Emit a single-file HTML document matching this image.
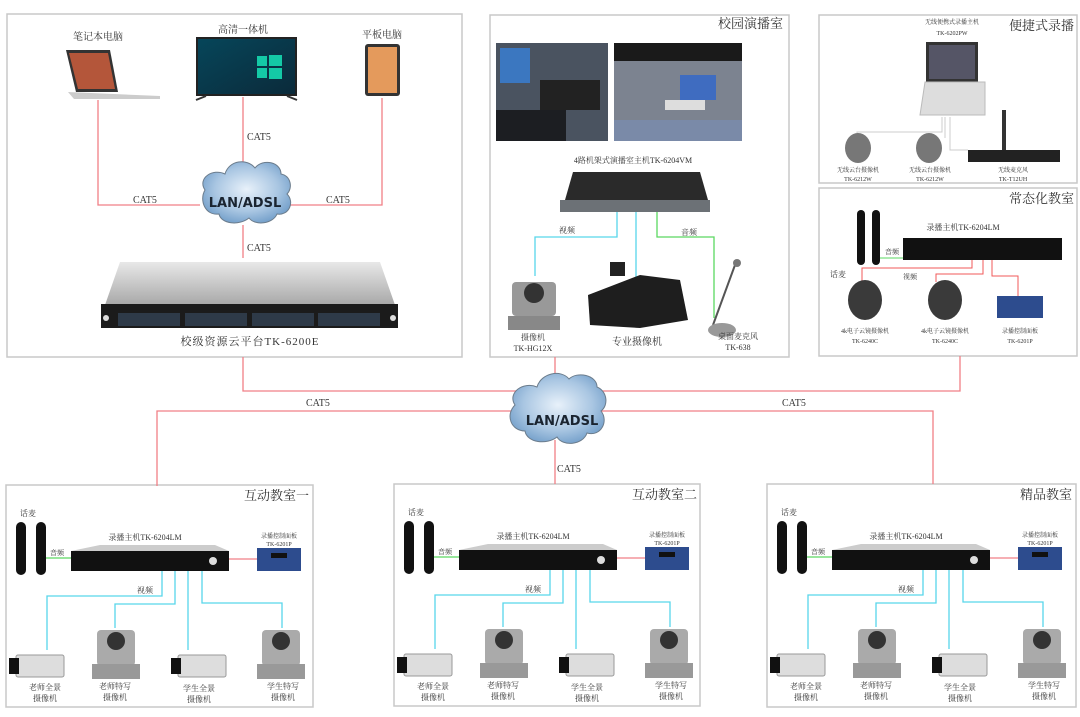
<!DOCTYPE html>
<html><head><meta charset="utf-8"><style>
html,body{margin:0;padding:0;background:#fff;width:1080px;height:717px;overflow:hidden}
svg{display:block}
text{font-family:"Liberation Serif","Noto Serif CJK SC","Noto Sans CJK SC",serif;fill:#333}
.s{font-size:8px}.m{font-size:10px}.t{font-size:13px}
</style></head><body>
<svg width="1080" height="717" viewBox="0 0 1080 717" xmlns="http://www.w3.org/2000/svg">
<defs>
<radialGradient id="cl" cx="50%" cy="45%" r="60%"><stop offset="0" stop-color="#e8f1fa"/><stop offset="0.6" stop-color="#a9c6e2"/><stop offset="1" stop-color="#6f9cc8"/></radialGradient>
<linearGradient id="tv" x1="0" y1="0" x2="1" y2="1"><stop offset="0" stop-color="#06465a"/><stop offset="1" stop-color="#0b2a3a"/></linearGradient>
<linearGradient id="gr" x1="0" y1="0" x2="0" y2="1"><stop offset="0" stop-color="#e8e8e8"/><stop offset="1" stop-color="#a8a8a8"/></linearGradient>
</defs>
<g fill="none" stroke="#c8c8c8" stroke-width="1.5">
<rect x="7" y="14" width="455" height="343"/>
<rect x="490" y="15" width="299" height="342"/>
<rect x="819" y="15" width="258" height="168"/>
<rect x="819" y="188" width="258" height="168"/>
<rect x="6" y="485" width="307" height="222"/>
<rect x="394" y="484" width="306" height="222"/>
<rect x="767" y="484" width="309" height="223"/>
</g>
<g stroke="#f07f86" stroke-width="1.3" fill="none">
<path d="M98 100V205H200M382 98V205H290M243 97V170M243 225V258"/>
<path d="M243 357V391H960V356M555 357V391"/>
<path d="M157 486V411H933V484M555 440V484"/>
</g>
<g>
<path d="M205 190c-8-12 8-22 20-16 4-14 22-16 30-6 8-10 26-6 26 6 10 2 12 14 6 20 8 8 2 22-10 20-4 10-22 12-28 4-10 8-28 6-30-4-14 2-20-14-14-24z" fill="url(#cl)" stroke="#6b7c8c"/>
<text x="245" y="207" text-anchor="middle" style="font-family:'DejaVu Sans',sans-serif;font-size:13px;font-weight:bold;fill:#1a2430">LAN/ADSL</text>
<path d="M515 405c-8-12 8-24 22-18 4-14 24-18 32-8 8-8 28-4 28 8 10 4 12 18 4 24 8 10 0 26-14 22-4 12-24 14-30 4-10 8-30 6-32-6-14 0-20-16-10-26z" fill="url(#cl)" stroke="#6b7c8c"/>
<text x="562" y="425" text-anchor="middle" style="font-family:'DejaVu Sans',sans-serif;font-size:13px;font-weight:bold;fill:#1a2430">LAN/ADSL</text>
</g>
<g class="m">
<text x="133" y="203" class="m">CAT5</text><text x="326" y="203" class="m">CAT5</text>
<text x="247" y="140" class="m">CAT5</text><text x="247" y="251" class="m">CAT5</text>
<text x="306" y="406" class="m">CAT5</text><text x="782" y="406" class="m">CAT5</text>
<text x="557" y="472" class="m">CAT5</text>
</g>
<text x="98" y="40" text-anchor="middle" class="m">笔记本电脑</text>
<text x="243" y="33" text-anchor="middle" class="m">高清一体机</text>
<text x="382" y="38" text-anchor="middle" class="m">平板电脑</text>
<path d="M66 50L110 50L118 92L76 92Z" fill="#333"/><path d="M69 53L108 53L115 89L78 89Z" fill="#b4563a"/>
<path d="M68 92L160 96L160 99L74 99Z" fill="#ccc"/>
<rect x="197" y="38" width="99" height="57" fill="url(#tv)" stroke="#222" stroke-width="2"/>
<g fill="#14c9a6"><rect x="257" y="56" width="10" height="10"/><rect x="269" y="55" width="13" height="11"/><rect x="257" y="68" width="10" height="10"/><rect x="269" y="68" width="13" height="11"/></g>
<path d="M196 100l10-4M297 100l-10-4" stroke="#333" stroke-width="2"/>
<rect x="365" y="44" width="35" height="52" rx="3" fill="#333"/><rect x="368" y="47" width="29" height="46" fill="#e49a5c"/>
<path d="M120 262L380 262L395 305L105 305Z" fill="url(#gr)"/>
<rect x="101" y="304" width="297" height="24" fill="#1b1b1b"/>
<g fill="#2e3a48"><rect x="118" y="313" width="62" height="13"/><rect x="185" y="313" width="62" height="13"/><rect x="252" y="313" width="62" height="13"/><rect x="318" y="313" width="62" height="13"/></g>
<circle cx="106" cy="318" r="3" fill="#ddd"/><circle cx="393" cy="318" r="3" fill="#ddd"/>
<text x="250" y="345" text-anchor="middle" class="m" style="font-size:11px;letter-spacing:1px">校级资源云平台TK-6200E</text>
<text x="783" y="28" text-anchor="end" class="t">校园演播室</text>
<rect x="496" y="43" width="112" height="98" fill="#4a5360"/><rect x="500" y="48" width="30" height="35" fill="#3b77c0"/><rect x="540" y="80" width="60" height="30" fill="#222"/><rect x="496" y="110" width="70" height="31" fill="#1c1e22"/>
<rect x="614" y="43" width="128" height="98" fill="#7c8390"/><rect x="614" y="43" width="128" height="18" fill="#1a1a1a"/><rect x="680" y="75" width="36" height="25" fill="#3f6cc0"/><path d="M614 141L742 141L742 120L614 120Z" fill="#7a8aa8"/><rect x="665" y="100" width="40" height="10" fill="#ddd"/>
<text x="633" y="163" text-anchor="middle" class="s">4路机架式演播室主机TK-6204VM</text>
<path d="M573 172L700 172L708 200L565 200Z" fill="#2a2a2a"/><rect x="560" y="200" width="150" height="12" fill="#6c7176"/>
<g fill="none" stroke-width="1.3"><path d="M617 212V237H535V276M636 212V280" stroke="#58d6ea"/><path d="M657 212V237H714V318" stroke="#5ad860"/></g>
<text x="559" y="233" class="s">视频</text><text x="681" y="235" class="s">音频</text>
<rect x="512" y="282" width="44" height="34" rx="4" fill="#999"/><circle cx="534" cy="293" r="10" fill="#333"/><rect x="508" y="316" width="52" height="14" fill="#888"/>
<text x="533" y="340" text-anchor="middle" class="s">摄像机</text><text x="533" y="351" text-anchor="middle" class="s">TK-HG12X</text>
<path d="M588 295L640 275L680 280L688 320L640 328L590 325Z" fill="#1e1e1e"/><rect x="610" y="262" width="15" height="14" fill="#222"/>
<text x="637" y="345" text-anchor="middle" class="m">专业摄像机</text>
<path d="M713 325L735 265" stroke="#555" stroke-width="2"/><ellipse cx="722" cy="330" rx="14" ry="7" fill="#999"/><circle cx="737" cy="263" r="4" fill="#777"/>
<text x="738" y="339" text-anchor="middle" class="s">桌面麦克风</text><text x="738" y="350" text-anchor="middle" class="s">TK-638</text>
<!-- Box C -->
<text x="1074" y="30" text-anchor="end" class="t">便捷式录播</text>
<text x="952" y="24" text-anchor="middle" class="s" style="font-size:6px">无线便携式录播主机</text><text x="952" y="35" text-anchor="middle" class="s" style="font-size:6px">TK-6202PW</text>
<rect x="926" y="42" width="52" height="40" fill="#333"/><rect x="929" y="45" width="46" height="34" fill="#556"/>
<path d="M925 82L985 82L985 115L920 115Z" fill="#ddd" stroke="#bbb"/>
<path d="M942 117V132H857V138M945 117V138M950 117V150H968" stroke="#ccc" fill="none"/>
<ellipse cx="858" cy="148" rx="13" ry="15" fill="#777"/><ellipse cx="929" cy="148" rx="13" ry="15" fill="#777"/>
<rect x="968" y="150" width="92" height="12" fill="#222"/><rect x="1002" y="110" width="4" height="40" fill="#333"/>
<g class="s" style="font-size:6px" text-anchor="middle"><text x="858" y="172">无线云台摄像机</text><text x="858" y="181">TK-6212W</text><text x="930" y="172">无线云台摄像机</text><text x="930" y="181">TK-6212W</text><text x="1013" y="172">无线麦克风</text><text x="1013" y="181">TK-T12UH</text></g>
<!-- Box D -->
<text x="1074" y="203" text-anchor="end" class="t">常态化教室</text>
<text x="830" y="277" class="s">话麦</text>
<rect x="857" y="210" width="8" height="55" rx="4" fill="#111"/><rect x="872" y="210" width="8" height="55" rx="4" fill="#111"/>
<path d="M880 258H903" stroke="#5ad860"/><text x="885" y="254" class="s" style="font-size:7px">音频</text>
<text x="963" y="230" text-anchor="middle" class="s">录播主机TK-6204LM</text>
<rect x="903" y="238" width="159" height="22" fill="#111"/>
<g fill="none" stroke="#f05a5a"><path d="M972 260V268H862V282M983 260V274H936V282M992 260V276H1018V296"/></g>
<text x="903" y="279" class="s" style="font-size:7px">视频</text>
<ellipse cx="865" cy="300" rx="17" ry="20" fill="#3a3a3a"/><ellipse cx="945" cy="300" rx="17" ry="20" fill="#3a3a3a"/>
<rect x="997" y="296" width="46" height="22" fill="#2d4c8e"/>
<g class="s" style="font-size:6px" text-anchor="middle"><text x="865" y="333">4k电子云镜摄像机</text><text x="865" y="343">TK-6240C</text><text x="945" y="333">4k电子云镜摄像机</text><text x="945" y="343">TK-6240C</text><text x="1020" y="333">录播控制面板</text><text x="1020" y="343">TK-6201P</text></g>
<!-- Classrooms -->
<g>
<text x="309" y="500" text-anchor="end" class="t">互动教室一</text>
<text x="20" y="516" class="s">话麦</text>
<rect x="16" y="522" width="10" height="53" rx="5" fill="#111"/><rect x="36" y="522" width="10" height="53" rx="5" fill="#111"/>
<path d="M46 558H72" stroke="#5ad860" stroke-width="1.3"/><text x="50" y="555" class="s" style="font-size:7px">音频</text>
<text x="145" y="540" text-anchor="middle" class="s">录播主机TK-6204LM</text>
<path d="M100 545L215 545L229 551L71 551Z" fill="#ccc"/>
<rect x="71" y="551" width="158" height="20" fill="#111"/><circle cx="213" cy="561" r="4" fill="#ddd"/>
<path d="M229 559H257" stroke="#f07f86" stroke-width="1.3"/>
<rect x="257" y="548" width="44" height="23" fill="#2d4c8e"/><rect x="271" y="553" width="16" height="5" fill="#111"/>
<text x="279" y="538" text-anchor="middle" class="s" style="font-size:6px">录播控制面板</text><text x="279" y="546" text-anchor="middle" class="s" style="font-size:6px">TK-6201P</text>
<g fill="none" stroke="#58d6ea" stroke-width="1.3"><path d="M162 571V596H47V650M175 571V604H115V628M188 571V650M202 571V603H282V628"/></g>
<text x="137" y="593" class="s">视频</text>
<rect x="16" y="655" width="48" height="22" rx="2" fill="#ddd" stroke="#999"/><rect x="9" y="658" width="10" height="16" fill="#111"/>
<rect x="178" y="655" width="48" height="22" rx="2" fill="#ddd" stroke="#999"/><rect x="171" y="658" width="10" height="16" fill="#111"/>
<rect x="97" y="630" width="38" height="36" rx="4" fill="#aaa"/><circle cx="116" cy="641" r="9" fill="#333"/><rect x="92" y="664" width="48" height="15" fill="#999"/>
<rect x="262" y="630" width="38" height="36" rx="4" fill="#aaa"/><circle cx="281" cy="641" r="9" fill="#333"/><rect x="257" y="664" width="48" height="15" fill="#999"/>
<g class="s" text-anchor="middle"><text x="45" y="690">老师全景</text><text x="45" y="701">摄像机</text><text x="115" y="689">老师特写</text><text x="115" y="700">摄像机</text><text x="199" y="691">学生全景</text><text x="199" y="702">摄像机</text><text x="283" y="689">学生特写</text><text x="283" y="700">摄像机</text></g>
</g>
<g transform="translate(388,-1)">
<text x="309" y="500" text-anchor="end" class="t">互动教室二</text>
<text x="20" y="516" class="s">话麦</text>
<rect x="16" y="522" width="10" height="53" rx="5" fill="#111"/><rect x="36" y="522" width="10" height="53" rx="5" fill="#111"/>
<path d="M46 558H72" stroke="#5ad860" stroke-width="1.3"/><text x="50" y="555" class="s" style="font-size:7px">音频</text>
<text x="145" y="540" text-anchor="middle" class="s">录播主机TK-6204LM</text>
<path d="M100 545L215 545L229 551L71 551Z" fill="#ccc"/>
<rect x="71" y="551" width="158" height="20" fill="#111"/><circle cx="213" cy="561" r="4" fill="#ddd"/>
<path d="M229 559H257" stroke="#f07f86" stroke-width="1.3"/>
<rect x="257" y="548" width="44" height="23" fill="#2d4c8e"/><rect x="271" y="553" width="16" height="5" fill="#111"/>
<text x="279" y="538" text-anchor="middle" class="s" style="font-size:6px">录播控制面板</text><text x="279" y="546" text-anchor="middle" class="s" style="font-size:6px">TK-6201P</text>
<g fill="none" stroke="#58d6ea" stroke-width="1.3"><path d="M162 571V596H47V650M175 571V604H115V628M188 571V650M202 571V603H282V628"/></g>
<text x="137" y="593" class="s">视频</text>
<rect x="16" y="655" width="48" height="22" rx="2" fill="#ddd" stroke="#999"/><rect x="9" y="658" width="10" height="16" fill="#111"/>
<rect x="178" y="655" width="48" height="22" rx="2" fill="#ddd" stroke="#999"/><rect x="171" y="658" width="10" height="16" fill="#111"/>
<rect x="97" y="630" width="38" height="36" rx="4" fill="#aaa"/><circle cx="116" cy="641" r="9" fill="#333"/><rect x="92" y="664" width="48" height="15" fill="#999"/>
<rect x="262" y="630" width="38" height="36" rx="4" fill="#aaa"/><circle cx="281" cy="641" r="9" fill="#333"/><rect x="257" y="664" width="48" height="15" fill="#999"/>
<g class="s" text-anchor="middle"><text x="45" y="690">老师全景</text><text x="45" y="701">摄像机</text><text x="115" y="689">老师特写</text><text x="115" y="700">摄像机</text><text x="199" y="691">学生全景</text><text x="199" y="702">摄像机</text><text x="283" y="689">学生特写</text><text x="283" y="700">摄像机</text></g>
</g>
<g transform="translate(761,-1)">
<text x="311" y="500" text-anchor="end" class="t">精品教室</text>
<text x="20" y="516" class="s">话麦</text>
<rect x="16" y="522" width="10" height="53" rx="5" fill="#111"/><rect x="36" y="522" width="10" height="53" rx="5" fill="#111"/>
<path d="M46 558H72" stroke="#5ad860" stroke-width="1.3"/><text x="50" y="555" class="s" style="font-size:7px">音频</text>
<text x="145" y="540" text-anchor="middle" class="s">录播主机TK-6204LM</text>
<path d="M100 545L215 545L229 551L71 551Z" fill="#ccc"/>
<rect x="71" y="551" width="158" height="20" fill="#111"/><circle cx="213" cy="561" r="4" fill="#ddd"/>
<path d="M229 559H257" stroke="#f07f86" stroke-width="1.3"/>
<rect x="257" y="548" width="44" height="23" fill="#2d4c8e"/><rect x="271" y="553" width="16" height="5" fill="#111"/>
<text x="279" y="538" text-anchor="middle" class="s" style="font-size:6px">录播控制面板</text><text x="279" y="546" text-anchor="middle" class="s" style="font-size:6px">TK-6201P</text>
<g fill="none" stroke="#58d6ea" stroke-width="1.3"><path d="M162 571V596H47V650M175 571V604H115V628M188 571V650M202 571V603H282V628"/></g>
<text x="137" y="593" class="s">视频</text>
<rect x="16" y="655" width="48" height="22" rx="2" fill="#ddd" stroke="#999"/><rect x="9" y="658" width="10" height="16" fill="#111"/>
<rect x="178" y="655" width="48" height="22" rx="2" fill="#ddd" stroke="#999"/><rect x="171" y="658" width="10" height="16" fill="#111"/>
<rect x="97" y="630" width="38" height="36" rx="4" fill="#aaa"/><circle cx="116" cy="641" r="9" fill="#333"/><rect x="92" y="664" width="48" height="15" fill="#999"/>
<rect x="262" y="630" width="38" height="36" rx="4" fill="#aaa"/><circle cx="281" cy="641" r="9" fill="#333"/><rect x="257" y="664" width="48" height="15" fill="#999"/>
<g class="s" text-anchor="middle"><text x="45" y="690">老师全景</text><text x="45" y="701">摄像机</text><text x="115" y="689">老师特写</text><text x="115" y="700">摄像机</text><text x="199" y="691">学生全景</text><text x="199" y="702">摄像机</text><text x="283" y="689">学生特写</text><text x="283" y="700">摄像机</text></g>
</g>
</svg>
</body></html>
